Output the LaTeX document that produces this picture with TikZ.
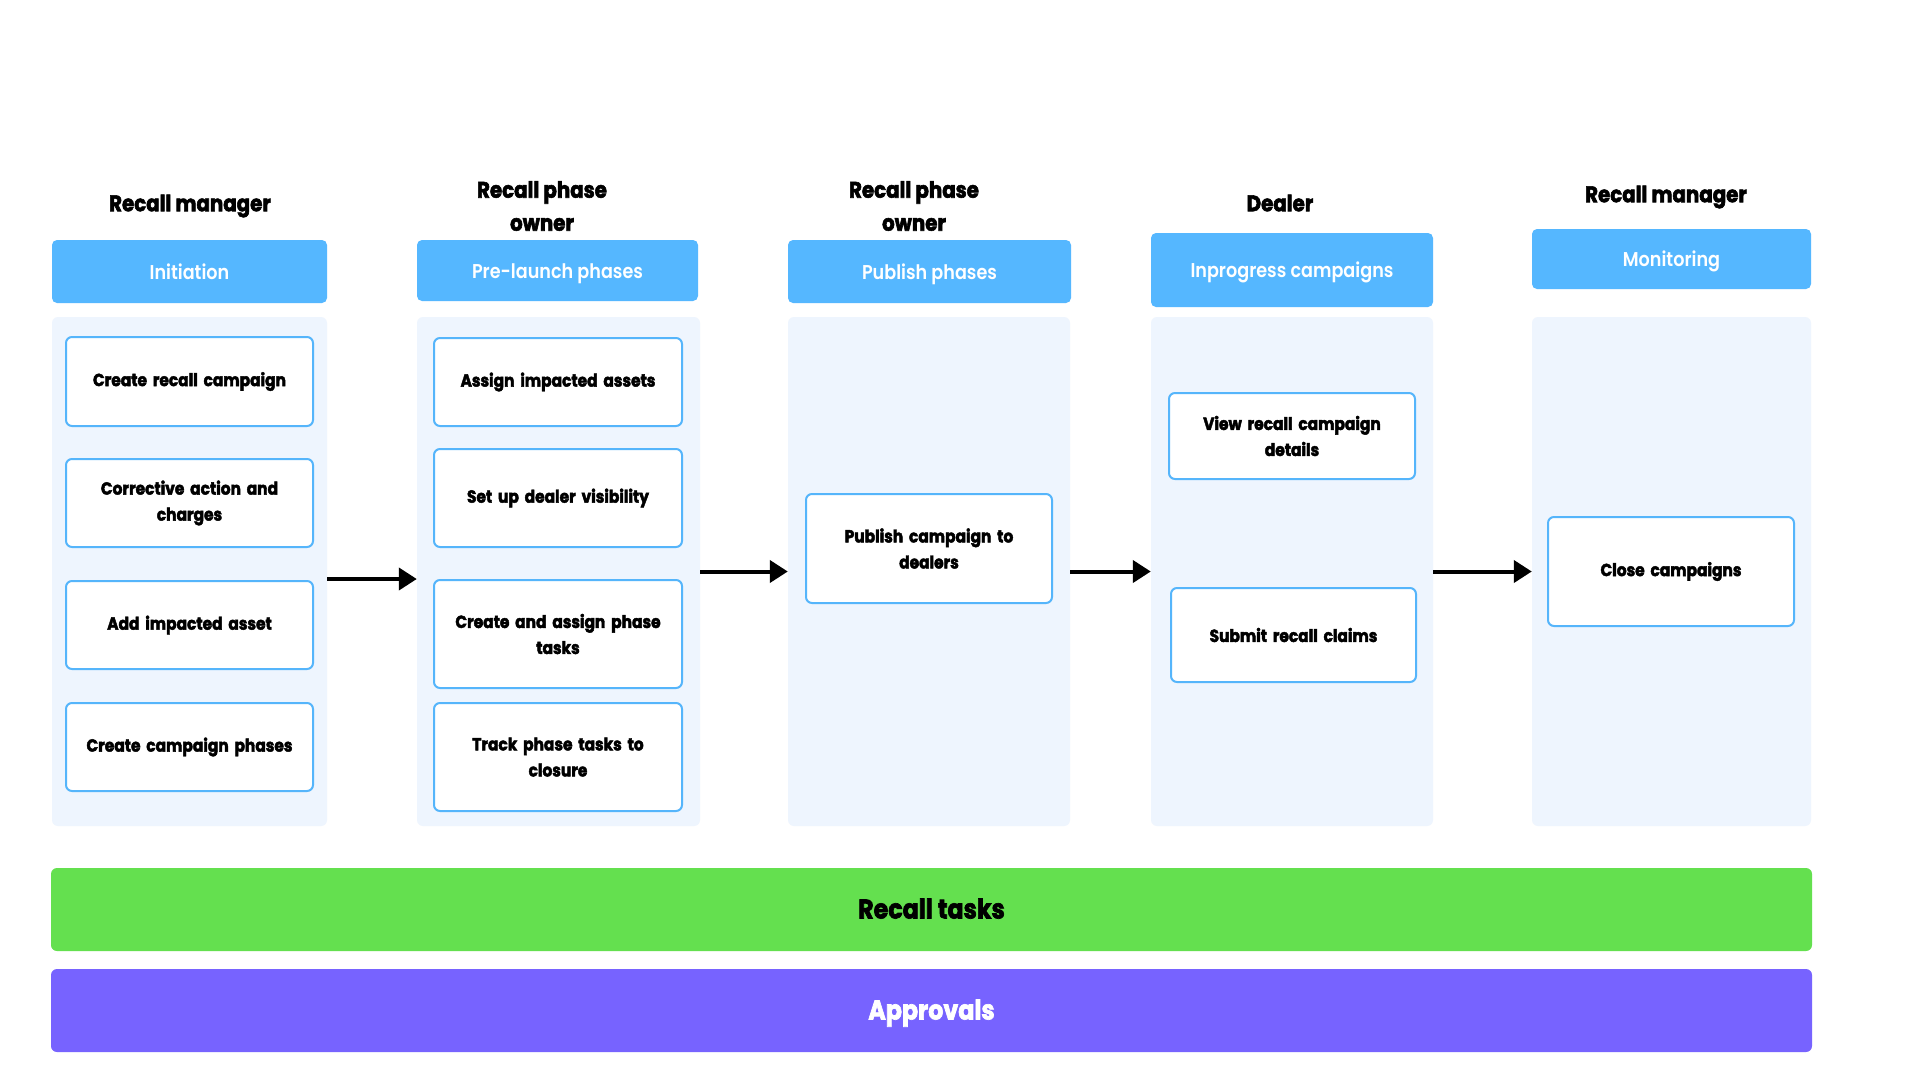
\documentclass[tikz,border=0pt]{standalone}
\usepackage{fontspec}
\setmainfont{Poppins}[FakeStretch=0.88, BoldFeatures={FakeBold=2.5}]
\newfontfamily\hdrfont{Poppins SemiBold}[FakeStretch=0.88]
\usetikzlibrary{arrows.meta}
\definecolor{hdr}{HTML}{55B7FF}
\definecolor{pnl}{HTML}{EEF5FE}
\definecolor{bxline}{HTML}{55B5FB}
\definecolor{grn}{HTML}{64E04F}
\definecolor{prp}{HTML}{7763FF}
\begin{document}
\begin{tikzpicture}[x=1pt,y=-1pt,
  header/.style={fill=hdr, rounded corners=5pt, text=white, inner sep=0pt, text height=17pt, text depth=2pt, font=\hdrfont\fontsize{20}{24}\selectfont},
  panel/.style={fill=pnl, rounded corners=6pt, inner sep=0pt, minimum height=509pt},
  task/.style={draw=bxline, line width=2pt, fill=white, rounded corners=6pt, inner sep=0pt, text width=228pt, align=center, font=\bfseries\fontsize{17.5}{26}\selectfont},
  role/.style={align=center, inner sep=0pt, font=\bfseries\fontsize{22.5}{33}\selectfont},
  bar/.style={rounded corners=6pt, inner sep=0pt, minimum width=1761pt, minimum height=83pt, text height=21pt, text depth=3pt, font=\bfseries\fontsize{27}{32}\selectfont},
  flow/.style={line width=4pt, -{Triangle[length=18pt,width=22pt]}}
]
\useasboundingbox[fill=white] (0,0) rectangle (1920,1080);

% column 1
\node[role] (r1) at (190,206) {Recall manager};
\node[header, minimum width=275pt, minimum height=63pt] (h1) at (189.5,271.5) {Initiation};
\node[panel, minimum width=275pt] (p1) at (189.5,571.5) {};
\node[task, minimum width=247pt, minimum height=89pt] (t11) at (189.5,381.5) {Create recall campaign};
\node[task, minimum width=247pt, minimum height=88pt] (t12) at (189.5,503) {Corrective action and\\charges};
\node[task, minimum width=247pt, minimum height=88pt] (t13) at (189.5,625) {Add impacted asset};
\node[task, minimum width=247pt, minimum height=88pt] (t14) at (189.5,747) {Create campaign phases};

% column 2
\node[role] (r2) at (542,206) {Recall phase\\owner};
\node[header, minimum width=281pt, minimum height=61pt] (h2) at (557.5,270.5) {Pre-launch phases};
\node[panel, minimum width=283pt] (p2) at (558.5,571.5) {};
\node[task, minimum width=248pt, minimum height=88pt] (t21) at (558,382) {Assign impacted assets};
\node[task, minimum width=248pt, minimum height=98pt] (t22) at (558,498) {Set up dealer visibility};
\node[task, minimum width=248pt, minimum height=108pt] (t23) at (558,634) {Create and assign phase\\tasks};
\node[task, minimum width=248pt, minimum height=108pt] (t24) at (558,757) {Track phase tasks to\\closure};

% column 3
\node[role] (r3) at (914,206) {Recall phase\\owner};
\node[header, minimum width=283pt, minimum height=63pt] (h3) at (929.5,271.5) {Publish phases};
\node[panel, minimum width=282pt] (p3) at (929,571.5) {};
\node[task, minimum width=246pt, minimum height=109pt] (t31) at (929,548.5) {Publish campaign to\\dealers};

% column 4
\node[role] (r4) at (1280,203) {Dealer};
\node[header, minimum width=282pt, minimum height=74pt] (h4) at (1292,270) {Inprogress campaigns};
\node[panel, minimum width=282pt] (p4) at (1292,571.5) {};
\node[task, minimum width=246pt, minimum height=86pt] (t41) at (1292,436) {View recall campaign\\details};
\node[task, minimum width=245pt, minimum height=94pt] (t42) at (1293.5,635) {Submit recall claims};

% column 5
\node[role] (r5) at (1666,197) {Recall manager};
\node[header, minimum width=279pt, minimum height=60pt] (h5) at (1671.5,259) {Monitoring};
\node[panel, minimum width=279pt] (p5) at (1671.5,571.5) {};
\node[task, minimum width=246pt, minimum height=109pt] (t51) at (1671,571.5) {Close campaigns};

% arrows
\draw[flow] ([yshift=-7.5pt]p1.east) -- ([yshift=-7.5pt]p2.west);
\draw[flow] (p2.east) -- (p3.west);
\draw[flow] (p3.east) -- (p4.west);
\draw[flow] (p4.east) -- (p5.west);

% bars
\node[bar, fill=grn, text=black] (tasks) at (931.5,909.5) {Recall tasks};
\node[bar, fill=prp, text=white] (appr) at (931.5,1010.5) {Approvals};
\end{tikzpicture}
\end{document}
